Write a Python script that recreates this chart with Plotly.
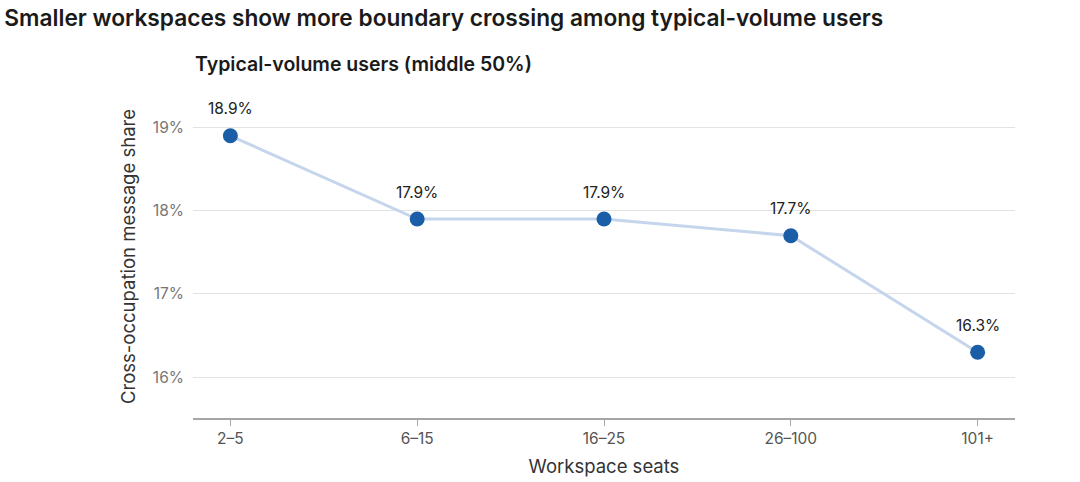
import plotly.graph_objects as go

categories = ["2–5", "6–15", "16–25", "26–100", "101+"]
share_pct = [18.9, 17.9, 17.9, 17.7, 16.3]
y_ticks = [16, 17, 18, 19]
y_tick_labels = ["16%", "17%", "18%", "19%"]

labels = [f"{v:.1f}%" for v in share_pct]
x_pos = list(range(len(categories)))
FONT = "Inter, Roboto, sans-serif"

fig = go.Figure()
fig.add_trace(go.Scatter(
    x=x_pos,
    y=share_pct,
    mode="lines+markers",
    line=dict(color="#c5d6ec", width=3),
    marker=dict(color="#1a5ea8", size=15, line=dict(width=0)),
    cliponaxis=False,
    hoverinfo="skip",
))

annotations = [dict(
    x=xi, y=yi, text=t, xref="x", yref="y", showarrow=False,
    yshift=27, font=dict(size=15.5, color="#222222", family=FONT),
) for xi, yi, t in zip(x_pos, share_pct, labels)]

annotations.append(dict(
    text="<span style='font-weight:600'>Typical-volume users (middle 50%)</span>",
    xref="paper", yref="paper", x=0, xanchor="left",
    y=1.095, yanchor="middle", showarrow=False,
    font=dict(size=19.5, color="#1a1a1a", family=FONT),
))

fig.update_layout(
    width=1080, height=482,
    margin=dict(l=193, r=65, t=95, b=64),
    paper_bgcolor="white",
    plot_bgcolor="white",
    showlegend=False,
    font=dict(family=FONT, color="#333333"),
    title=dict(
        text="<span style='font-weight:600'>Smaller workspaces show more boundary crossing among typical-volume users</span>",
        x=0.004, xanchor="left", y=0.963, yanchor="middle",
        font=dict(size=22.7, color="#1a1a1a"),
    ),
    annotations=annotations,
    xaxis=dict(
        range=[-0.2, 4.2],
        tickvals=x_pos,
        ticktext=categories,
        showgrid=False, zeroline=False,
        showline=True, linecolor="#a6a6a6", linewidth=1.5,
        ticks="outside", ticklen=6, tickcolor="#a6a6a6",
        tickfont=dict(size=15.5, color="#555555"),
        automargin=False,
        title=dict(text="Workspace seats", font=dict(size=18.5, color="#333333"), standoff=13),
    ),
    yaxis=dict(
        range=[15.51, 19.39],
        tickvals=y_ticks,
        ticktext=y_tick_labels,
        showgrid=True, gridcolor="#e3e3e3", gridwidth=1,
        zeroline=False, showline=False,
        ticks="", ticklabelstandoff=8,
        tickfont=dict(size=15.5, color="#777777"),
        automargin=False,
        title=dict(text="Cross-occupation message share", font=dict(size=18.5, color="#333333"), standoff=12),
    ),
)

fig.write_html("out.html", config={"displayModeBar": False},
               post_script="document.body.style.margin='0';")
